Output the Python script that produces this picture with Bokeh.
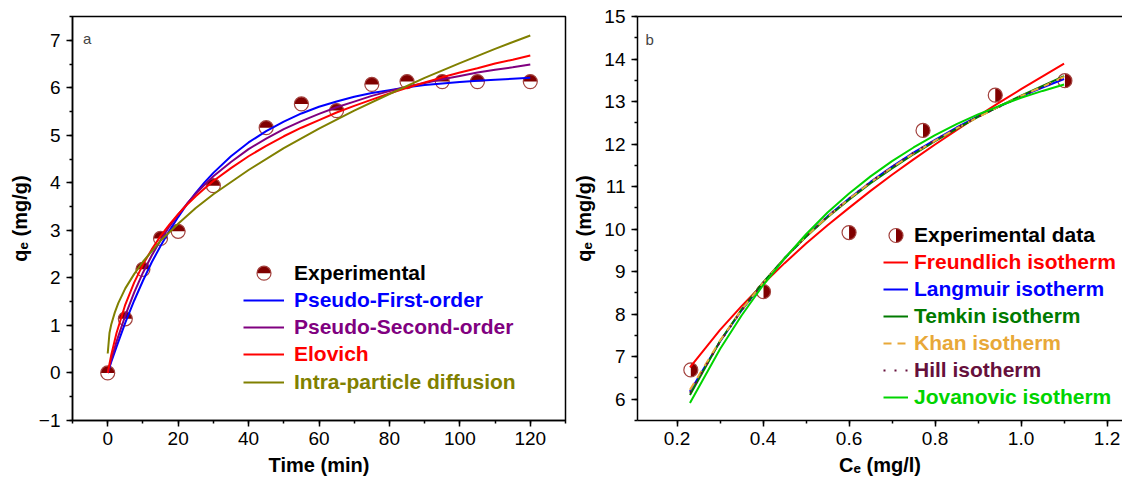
import numpy as np
from bokeh.plotting import figure
from bokeh.layouts import row
from bokeh.models import (Legend, LegendItem, FixedTicker, Label, NumeralTickFormatter, Range1d, LinearAxis)
from bokeh.embed import file_html
from bokeh.resources import INLINE

# ---------------- Panel a : kinetics ----------------
t_exp = [0, 5, 10, 15, 20, 30, 45, 55, 65, 75, 85, 95, 105, 120]
q_exp = [0.0, 1.14, 2.18, 2.83, 2.98, 3.94, 5.16, 5.66, 5.52, 6.07, 6.13, 6.13, 6.13, 6.13]

t_fit = [0, 1, 2.5, 5, 7.5, 10, 12.5, 15, 17.5, 20, 22.5, 25, 27.5, 30, 35, 40, 45, 50, 55, 60,
         65, 70, 75, 80, 85, 90, 95, 100, 105, 110, 115, 120]
q_pfo = [0, 0.23, 0.55, 1.06, 1.52, 1.94, 2.33, 2.67, 2.99, 3.28, 3.55, 3.79, 4.01, 4.21, 4.56, 4.85,
         5.09, 5.29, 5.46, 5.60, 5.71, 5.81, 5.89, 5.95, 6.01, 6.06, 6.09, 6.12, 6.15, 6.17, 6.19, 6.21]
q_pso = [0, 0.28, 0.66, 1.21, 1.69, 2.11, 2.47, 2.79, 3.08, 3.33, 3.56, 3.77, 3.96, 4.14, 4.44, 4.71,
         4.93, 5.13, 5.30, 5.45, 5.59, 5.71, 5.83, 5.93, 6.02, 6.10, 6.18, 6.25, 6.32, 6.38, 6.43, 6.49]
q_elo = [0, 0.38, 0.84, 1.44, 1.90, 2.28, 2.60, 2.88, 3.12, 3.34, 3.54, 3.72, 3.88, 4.04, 4.31, 4.56,
         4.78, 4.98, 5.16, 5.32, 5.48, 5.62, 5.75, 5.88, 6.00, 6.11, 6.22, 6.32, 6.41, 6.51, 6.59, 6.68]

t_ipd = [0, 0.5, 1, 2, 3, 5, 7.5, 10, 15, 20, 25, 30, 40, 50, 60, 70, 80, 90, 100, 110, 120]
q_ipd = [0.41, 0.84, 1.02, 1.27, 1.47, 1.78, 2.08, 2.34, 2.78, 3.14, 3.47, 3.76, 4.27, 4.73, 5.14,
         5.52, 5.87, 6.21, 6.52, 6.82, 7.10]

kin_names = ["Pseudo-First-order", "Pseudo-Second-order", "Elovich", "Intra-particle diffusion"]
kin_colors = ["#0000FF", "#800080", "#FF0000", "#808000"]

# ---------------- Panel b : isotherms ----------------
c_exp = [0.232, 0.401, 0.600, 0.772, 0.940, 1.102]
qe_exp = [6.69, 8.53, 9.92, 12.32, 13.15, 13.49]

c_fit = [0.23, 0.3, 0.35, 0.4, 0.45, 0.5, 0.55, 0.6, 0.65, 0.7, 0.75, 0.8, 0.85, 0.9, 0.95, 1.0, 1.05, 1.1]
q_freundlich = [6.75, 7.63, 8.19, 8.71, 9.20, 9.66, 10.09, 10.50, 10.90, 11.28, 11.64, 11.99, 12.33,
                12.66, 12.98, 13.29, 13.59, 13.89]
q_langmuir = [6.18, 7.36, 8.09, 8.73, 9.31, 9.83, 10.30, 10.72, 11.11, 11.47, 11.80, 12.10, 12.39,
              12.65, 12.89, 13.12, 13.33, 13.53]
q_temkin = [6.10, 7.37, 8.11, 8.75, 9.32, 9.82, 10.28, 10.69, 11.08, 11.43, 11.76, 12.07, 12.36,
            12.64, 12.89, 13.14, 13.37, 13.60]
q_khan = [6.22, 7.38, 8.10, 8.74, 9.31, 9.83, 10.29, 10.71, 11.10, 11.45, 11.78, 12.08, 12.37,
          12.63, 12.89, 13.13, 13.35, 13.58]
q_hill = [6.15, 7.35, 8.09, 8.73, 9.31, 9.83, 10.30, 10.72, 11.11, 11.46, 11.80, 12.09, 12.38,
          12.64, 12.88, 13.12, 13.34, 13.55]
q_jovanovic = [5.91, 7.18, 7.97, 8.68, 9.31, 9.88, 10.39, 10.84, 11.24, 11.60, 11.92, 12.21, 12.47,
               12.70, 12.90, 13.09, 13.25, 13.40]

iso_names = ["Freundlich isotherm", "Langmuir isotherm", "Temkin isotherm",
             "Khan isotherm", "Hill isotherm", "Jovanovic isotherm"]
iso_colors = ["#FF0000", "#0000FF", "#007A00", "#E8A838", "#66103C", "#00D400"]
iso_dash = ["solid", "solid", "solid", "8 6", "2 9", "solid"]

FONT = "Liberation Sans"
MFILL = "#800000"
MLINE = "#A3433F"
MSIZE = 14
H = 482
TOP = 16
FRAME_H = 404


def style(xax, yax):
    for ax in (xax, yax):
        ax.axis_line_color = "black"
        ax.axis_line_width = 1.5
        ax.major_tick_line_color = "black"
        ax.minor_tick_line_color = "black"
        ax.major_tick_line_width = 1.5
        ax.minor_tick_line_width = 1.5
        ax.major_tick_in = 0
        ax.major_tick_out = 6
        ax.minor_tick_in = 0
        ax.minor_tick_out = 3
        ax.major_label_text_font = FONT
        ax.major_label_text_font_size = "19px"
        ax.major_label_text_color = "black"
        ax.axis_label_text_font = FONT
        ax.axis_label_text_font_size = "20px"
        ax.axis_label_text_font_style = "bold"
        ax.axis_label_text_color = "black"
    xax.major_label_standoff = 5
    xax.axis_label_standoff = 6
    yax.major_label_standoff = 6


def add_leg(p, label, color, rend, x, yc, gw, standoff, size="21px"):
    h = 26
    leg = Legend(items=[LegendItem(label=label, renderers=[rend] if rend is not None else [])],
                 location=(x, yc - h / 2), orientation="vertical",
                 glyph_width=gw, glyph_height=h, label_height=h, label_standoff=standoff,
                 padding=0, margin=0, spacing=0, border_line_alpha=0, background_fill_alpha=0,
                 label_text_font=FONT, label_text_font_style="bold", label_text_font_size=size,
                 label_text_color=color)
    p.add_layout(leg)


# ---------------- figure a ----------------
W1 = 568
ML1, MR1 = 72, 3
FW1 = W1 - ML1 - MR1
xa0, xa1, ya0, ya1 = -10, 130, -1, 7.5
p1 = figure(width=W1, height=H, output_backend="svg", toolbar_location=None,
            x_range=Range1d(xa0, xa1), y_range=Range1d(ya0, ya1),
            min_border_left=ML1, min_border_right=MR1, min_border_top=TOP,
            min_border_bottom=H - TOP - FRAME_H)
p1.grid.visible = False
p1.outline_line_color = "black"
p1.outline_line_width = 1.5
xax1, yax1 = p1.below[0], p1.left[0]
style(xax1, yax1)
xax1.ticker = FixedTicker(ticks=list(range(0, 121, 20)), minor_ticks=list(range(-10, 131, 10)))
yax1.ticker = FixedTicker(ticks=list(range(-1, 8)), minor_ticks=[v / 2 for v in range(-2, 16)])
yax1.major_label_overrides = {-1: "\u22121"}
xax1.axis_label = "Time (min)"
yax1.axis_label = "q\u2091 (mg/g)"
yax1.axis_label_standoff = 5

p1.wedge(x=t_exp, y=q_exp, radius=MSIZE / 2, radius_units="screen", start_angle=0, end_angle=np.pi,
         fill_color=MFILL, line_color=None)
p1.scatter(x=t_exp, y=q_exp, size=MSIZE, marker="circle", fill_color=None, line_color=MLINE, line_width=1.2)

kin_series = [(t_fit, q_pfo), (t_fit, q_pso), (t_fit, q_elo), (t_ipd, q_ipd)]
kin_rends = []
for (xs, ys), c in zip(kin_series, kin_colors):
    kin_rends.append(p1.line(xs, ys, line_color=c, line_width=2))

L1X, L1GW, L1SO = 171, 41, 10
l1_rows = [147.3 - 27.25 * i for i in range(5)]
# legend symbol for the experimental points (decoration, placed from the legend layout)
lx = xa0 + (L1X + L1GW / 2) / FW1 * (xa1 - xa0)
ly = ya0 + l1_rows[0] / FRAME_H * (ya1 - ya0)
p1.wedge(x=[lx], y=[ly], radius=MSIZE / 2, radius_units="screen", start_angle=0, end_angle=np.pi,
         fill_color=MFILL, line_color=None)
p1.scatter(x=[lx], y=[ly], size=MSIZE, marker="circle", fill_color=None, line_color=MLINE, line_width=1.2)
add_leg(p1, "Experimental", "black", None, L1X, l1_rows[0], L1GW, L1SO)
for i, (nm, c, r) in enumerate(zip(kin_names, kin_colors, kin_rends)):
    add_leg(p1, nm, c, r, L1X, l1_rows[i + 1], L1GW, L1SO)

p1.add_layout(Label(x=10.5, y=382, x_units="screen", y_units="screen", text="a",
                    text_font=FONT, text_font_size="15px", text_baseline="alphabetic"))

# ---------------- figure b ----------------
W2 = 554
ML2, MR2 = 69, 0
FW2 = W2 - ML2 - MR2
xb0, yb0, yb1 = 0.108, 5.5, 15
xb1 = xb0 + FW2 / 430.0
p2 = figure(width=W2, height=H, output_backend="svg", toolbar_location=None,
            x_range=Range1d(xb0, xb1), y_range=Range1d(yb0, yb1),
            min_border_left=ML2, min_border_right=MR2, min_border_top=TOP,
            min_border_bottom=H - TOP - FRAME_H)
p2.grid.visible = False
xax2, yax2 = p2.below[0], p2.left[0]
style(xax2, yax2)
# panel b is cropped on the right in the reference: a top border but no right border
p2.outline_line_color = None
top_axis = LinearAxis(ticker=FixedTicker(ticks=[], minor_ticks=[]),
                      axis_line_color="black", axis_line_width=1.5,
                      major_tick_line_color=None, minor_tick_line_color=None,
                      major_label_standoff=0, axis_label_standoff=0)
p2.add_layout(top_axis, "above")
xax2.ticker = FixedTicker(ticks=[0.2, 0.4, 0.6, 0.8, 1.0, 1.2],
                          minor_ticks=[v / 10 for v in range(2, 13)])
xax2.formatter = NumeralTickFormatter(format="0.0")
yax2.ticker = FixedTicker(ticks=list(range(6, 16)), minor_ticks=[v / 2 for v in range(11, 31)])
xax2.axis_label = "C\u2091 (mg/l)"
yax2.axis_label = "q\u2091 (mg/g)"
yax2.axis_label_standoff = 6

p2.wedge(x=c_exp, y=qe_exp, radius=MSIZE / 2, radius_units="screen", start_angle=-np.pi / 2,
         end_angle=np.pi / 2, fill_color=MFILL, line_color=None)
p2.scatter(x=c_exp, y=qe_exp, size=MSIZE, marker="circle", fill_color=None, line_color=MLINE, line_width=1.2)

iso_series = [q_freundlich, q_langmuir, q_temkin, q_khan, q_hill, q_jovanovic]
iso_rends = []
for ys, c, d in zip(iso_series, iso_colors, iso_dash):
    iso_rends.append(p2.line(c_fit, ys, line_color=c, line_width=2, line_dash=d))

L2X, L2GW, L2SO = 246, 25, 6
l2_rows = [185 - 26.95 * i for i in range(7)]
lx2 = xb0 + (L2X + L2GW / 2) / FW2 * (xb1 - xb0)
ly2 = yb0 + l2_rows[0] / FRAME_H * (yb1 - yb0)
p2.wedge(x=[lx2], y=[ly2], radius=MSIZE / 2, radius_units="screen", start_angle=-np.pi / 2,
         end_angle=np.pi / 2, fill_color=MFILL, line_color=None)
p2.scatter(x=[lx2], y=[ly2], size=MSIZE, marker="circle", fill_color=None, line_color=MLINE, line_width=1.2)
add_leg(p2, "Experimental data", "black", None, L2X, l2_rows[0], L2GW, L2SO)
for i, (nm, c, r) in enumerate(zip(iso_names, iso_colors, iso_rends)):
    add_leg(p2, nm, c, r, L2X, l2_rows[i + 1], L2GW, L2SO)

p2.add_layout(Label(x=8, y=381, x_units="screen", y_units="screen", text="b",
                    text_font=FONT, text_font_size="15px", text_baseline="alphabetic"))

layout = row(p1, p2)
open("out.html", "w").write(file_html(layout, INLINE))
